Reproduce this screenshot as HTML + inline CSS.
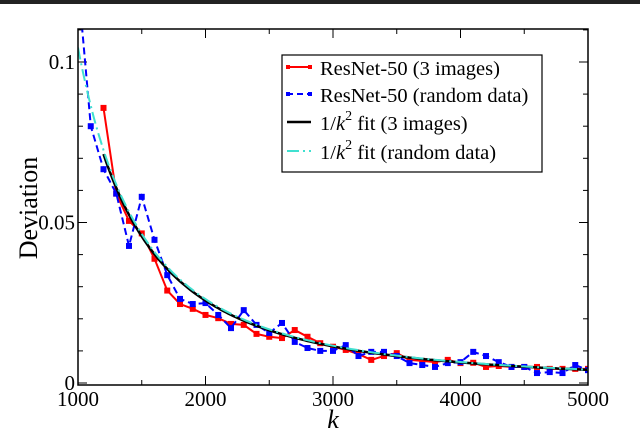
<!DOCTYPE html>
<html><head><meta charset="utf-8"><style>
html,body{margin:0;padding:0;background:#fff;width:640px;height:432px;overflow:hidden}
svg{display:block;font-family:"Liberation Serif",serif}
</style></head><body>
<svg id="chart" width="640" height="432" viewBox="0 0 640 432">
<rect x="0" y="0" width="640" height="4" fill="#222"/>
<g id="grid"></g>
<g id="series"></g>
<g>
<rect x="282" y="55" width="260" height="117" fill="#fff" stroke="#000" stroke-width="1.2"/>
<g>
<line x1="287" y1="67" x2="311" y2="67" stroke="#f00" stroke-width="2"/><rect x="286" y="65" width="4" height="4" fill="#f00"/><rect x="308" y="65" width="4" height="4" fill="#f00"/>
<text x="320" y="75" font-size="20.5">ResNet-50 (3 images)</text></g>
<g>
<line x1="287" y1="94" x2="311" y2="94" stroke="#00f" stroke-width="2" stroke-dasharray="6,4"/><rect x="286" y="92" width="4" height="4" fill="#00f"/><rect x="308" y="92" width="4" height="4" fill="#00f"/>
<text x="320" y="102" font-size="20.5">ResNet-50 (random data)</text></g>
<g>
<line x1="287" y1="122" x2="311" y2="122" stroke="#000" stroke-width="2.5"/>
<text x="320" y="130" font-size="20.5">1/<tspan font-style="italic">k</tspan><tspan dy="-10" font-size="14">2</tspan><tspan dy="10"> fit (3 images)</tspan></text></g>
<g>
<line x1="287" y1="151" x2="311" y2="151" stroke="#40e0d0" stroke-width="2" stroke-dasharray="12,4,2,4"/>
<text x="320" y="159" font-size="20.5">1/<tspan font-style="italic">k</tspan><tspan dy="-10" font-size="14">2</tspan><tspan dy="10"> fit (random data)</tspan></text></g>
</g>
<text transform="translate(37,208) rotate(-90)" text-anchor="middle" font-size="26">Deviation</text>
<text x="333" y="428" text-anchor="middle" font-size="26" font-style="italic">k</text>
</svg>
<script>
const ks=[1000,1100,1200,1300,1400,1500,1600,1700,1800,1900,2000,2100,2200,2300,2400,2500,2600,2700,2800,2900,3000,3100,3200,3300,3400,3500,3600,3700,3800,3900,4000,4100,4200,4300,4400,4500,4600,4700,4800,4900,5000];
const redVals=[null,null,0.0857,0.059,0.0505,0.0466,0.0387,0.0288,0.0246,0.0231,0.0212,0.0202,0.0184,0.0181,0.0153,0.0144,0.014,0.0165,0.0144,0.0124,0.0113,0.0103,0.009,0.0072,0.0084,0.0093,0.0072,0.0069,0.0065,0.0072,0.0062,0.0063,0.005,0.0053,0.005,0.005,0.005,0.0044,0.0044,0.0044,0.0044];
const blueVals=[0.125,0.080,0.0666,0.059,0.0427,0.058,0.0446,0.0336,0.0262,0.0246,0.0249,0.0212,0.0171,0.0227,0.0181,0.0156,0.0187,0.0128,0.0109,0.01,0.01,0.0118,0.0084,0.0097,0.0097,0.0084,0.0062,0.0056,0.005,0.0062,0.0065,0.0097,0.0084,0.0065,0.005,0.005,0.0031,0.0034,0.0031,0.0056,0.004];
const fitBlackCoef=0.1027, fitBlackStart=1200;
const fitCyanCoef=0.1045, fitCyanStart=1000;
const xTicks=[1000,2000,3000,4000,5000];
const xTickLabels=["1000","2000","3000","4000","5000"];
const yTicks=[0,0.05,0.1];
const yTickLabels=["0","0.05","0.1"];

const L=78,R=588,T=29,B=385;
const X=v=>L+(v-1000)/4000*(R-L);
const Y=v=>383-v*3210;
const NS="http://www.w3.org/2000/svg";
const svg=document.getElementById('chart');
const grid=document.getElementById('grid');
const ser=document.getElementById('series');
function mk(tag,attrs,parent){const e=document.createElementNS(NS,tag);for(const k in attrs)e.setAttribute(k,attrs[k]);parent.appendChild(e);return e;}

const clip=mk('clipPath',{id:'pc'},svg);mk('rect',{x:L,y:T,width:R-L,height:B-T},clip);
ser.setAttribute('clip-path','url(#pc)');

for(let v=1000;v<=5000;v+=500){const x=X(v),len=(v%1000===0)?9:5;
 const t1=mk('line',{x1:x,y1:B,x2:x,y2:B-len,stroke:'#000','stroke-width':1},grid);
 
 const t2=mk('line',{x1:x,y1:T,x2:x,y2:T+len,stroke:'#000','stroke-width':1},grid);
 }
for(let i=0;i<=11;i++){const v=i*0.01,y=Y(v),len=(i%5===0)?9:5;if(y<T)continue;
 const t1=mk('line',{x1:L,y1:y,x2:L+len,y2:y,stroke:'#000','stroke-width':1},grid);
 
 const t2=mk('line',{x1:R,y1:y,x2:R-len,y2:y,stroke:'#000','stroke-width':1},grid);
 }
xTicks.forEach((v,i)=>{const t=mk('text',{x:X(v),y:406,'text-anchor':'middle','font-size':21},grid);t.textContent=xTickLabels[i];
 });
yTicks.forEach((v,i)=>{const t=mk('text',{x:L-3,y:Y(v)+7,'text-anchor':'end','font-size':21},grid);t.textContent=yTickLabels[i];
 });

const fr=mk('rect',{x:L,y:T,width:R-L,height:B-T,fill:'none',stroke:'#000','stroke-width':1.5},svg);


function fitPath(a,start){let d='';for(let k=start;k<=5000;k+=20){const v=a/Math.pow(k/1000,2);d+=(d?'L':'M')+X(k).toFixed(1)+','+Y(v).toFixed(1);}return d;}
function linePath(vals){let d='';vals.forEach((v,i)=>{if(v==null)return;d+=(d?'L':'M')+X(ks[i]).toFixed(1)+','+Y(v).toFixed(1);});return d;}
const red=mk('path',{d:linePath(redVals),fill:'none',stroke:'#f00','stroke-width':2},ser);

redVals.forEach((v,i)=>{if(v==null)return;const m=mk('rect',{x:X(ks[i])-3,y:Y(v)-3,width:6,height:6,fill:'#f00'},ser);
 });
const blue=mk('path',{d:linePath(blueVals),fill:'none',stroke:'#00f','stroke-width':2,'stroke-dasharray':'7,4'},ser);

blueVals.forEach((v,i)=>{const m=mk('rect',{x:X(ks[i])-3,y:Y(v)-3,width:6,height:6,fill:'#00f'},ser);
 });
const fb=mk('path',{d:fitPath(fitBlackCoef,fitBlackStart),fill:'none',stroke:'#000','stroke-width':2.5},ser);

const fc=mk('path',{d:fitPath(fitCyanCoef,fitCyanStart),fill:'none',stroke:'#40e0d0','stroke-width':2,'stroke-dasharray':'12,4,2,4'},ser);

</script>
</body></html>
